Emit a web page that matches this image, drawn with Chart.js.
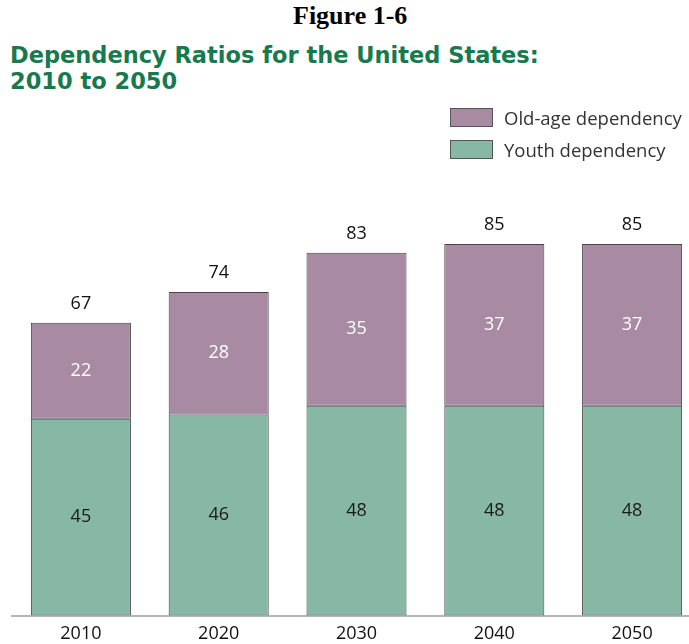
<!DOCTYPE html>
<html>
<head>
<meta charset="utf-8">
<script src="https://cdn.jsdelivr.net/npm/chart.js@4.4.1/dist/chart.umd.min.js"></script>
<style>
  html, body { margin: 0; padding: 0; background: #fff; overflow: hidden; }
  body { width: 689px; height: 644px; position: relative; }
  #fig { position: absolute; left: 293px; top: 1px; font: bold 26px "Liberation Serif", serif; color: #000; }
  #title { position: absolute; left: 10px; top: 42px; font: bold 22.5px "DejaVu Sans", sans-serif; color: #177a4e; line-height: 26px; white-space: nowrap; }
  #legend { position: absolute; left: 450px; top: 107px; font: 18.5px "Open Sans", sans-serif; color: #333; }
  .item { display: flex; align-items: center; height: 20px; margin-bottom: 12px; }
  .box { width: 41px; height: 17px; border: 1px solid #555; margin-right: 11px; }
  #wrap { position: absolute; left: 0; top: 0; width: 705px; height: 644px; }
</style>
</head>
<body>
<div id="fig">Figure 1-6</div>
<div id="title">Dependency Ratios for the United States:<br>2010 to 2050</div>
<div id="wrap"><canvas id="chart"></canvas></div>
<div id="legend"></div>
<script>
// data
const years = ["2010", "2020", "2030", "2040", "2050"];
const youth = [45, 46, 48, 48, 48];
const oldAge = [22, 28, 35, 37, 37];
const totals = [67, 74, 83, 85, 85];

const youthColor = "#86b8a5";
const oldColor = "#a98aa3";

// legend (old-age first, like the original)
const legendItems = [
  { label: "Old-age dependency", color: oldColor },
  { label: "Youth dependency", color: youthColor },
];
document.getElementById("legend").innerHTML = legendItems
  .map((it) => `<div class="item"><div class="box" style="background:${it.color}"></div>${it.label}</div>`)
  .join("");

// labels inside segments + totals on top
const valueLabels = {
  id: "valueLabels",
  afterDatasetsDraw(chart) {
    const { ctx } = chart;
    ctx.save();
    ctx.font = '18px "Open Sans", sans-serif';
    ctx.textAlign = "center";
    ctx.textBaseline = "middle";
    chart.data.datasets.forEach((ds, di) => {
      const meta = chart.getDatasetMeta(di);
      meta.data.forEach((bar, i) => {
        const mid = (bar.y + bar.base) / 2;
        ctx.fillStyle = di === 0 ? "#1a1a1a" : "#ffffff";
        ctx.fillText(ds.data[i], bar.x, mid);
      });
    });
    const top = chart.getDatasetMeta(1);
    ctx.fillStyle = "#111";
    top.data.forEach((bar, i) => {
      ctx.fillText(totals[i], bar.x, bar.y - 19);
    });
    ctx.restore();
  },
};

new Chart(document.getElementById("chart").getContext("2d"), {
  type: "bar",
  data: {
    labels: years,
    datasets: [
      {
        label: "Youth dependency",
        data: youth,
        backgroundColor: youthColor,
        borderColor: "#444",
        borderWidth: 1,
        borderSkipped: false,
      },
      {
        label: "Old-age dependency",
        data: oldAge,
        backgroundColor: oldColor,
        borderColor: "#444",
        borderWidth: 1,
        borderSkipped: false,
      },
    ],
  },
  options: {
    responsive: true,
    maintainAspectRatio: false,
    animation: false,
    barPercentage: 0.726,
    categoryPercentage: 1,
    layout: { padding: { top: 178.5, left: 12, right: 4, bottom: 0 } },
    plugins: {
      legend: { display: false },
      tooltip: { enabled: false },
    },
    scales: {
      x: {
        stacked: true,
        grid: { display: false },
        border: { display: true, color: "#b5b5b5", width: 2 },
        ticks: {
          color: "#111",
          padding: 0,
          font: { family: "Open Sans", size: 18 },
        },
        afterFit: (scale) => {
          scale.height = 28.5;
        },
      },
      y: {
        stacked: true,
        display: false,
        min: 0,
        max: 100,
      },
    },
  },
  plugins: [valueLabels],
});
</script>
</body>
</html>
